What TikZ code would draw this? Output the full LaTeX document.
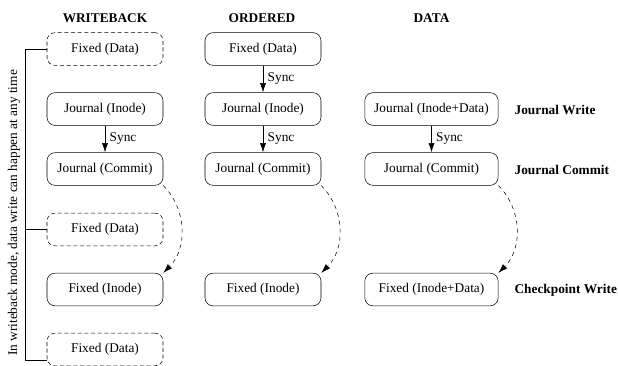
\documentclass[tikz,border=0pt]{standalone}
\usepackage{fontspec}
\setmainfont{Liberation Serif}
\usepackage{tikz}
\usetikzlibrary{arrows.meta}

\tikzset{
  box/.style={draw,rounded corners=6pt,minimum width=87pt,minimum height=24.5pt,inner sep=2pt},
  widebox/.style={box,minimum width=100pt},
  dbox/.style={box,dash pattern=on 3pt off 2pt},
  title/.style={font=\bfseries},
  sync/.style={-{Latex[length=7pt,width=4.5pt]}},
  flush/.style={dashed,-{Latex[length=7pt,width=4.5pt]}}
}

\begin{document}
\begin{tikzpicture}[x=0.75pt,y=-0.75pt]
\useasboundingbox (0,0) rectangle (618,365);

% Titles
\node[title] (twb) at (105,18) {WRITEBACK};
\node[title] (tor) at (262,18) {ORDERED};
\node[title] (tda) at (431.5,18) {DATA};

% Writeback
\node[dbox] (wfd1) at (105,49) {Fixed (Data)};
\node[box] (wji) at (105,109) {Journal (Inode)};
\node[box] (wjc) at (105,169) {Journal (Commit)};
\node[dbox] (wfd2) at (105,229.5) {Fixed (Data)};
\node[box] (wfi) at (105,289.5) {Fixed (Inode)};
\node[dbox] (wfd3) at (105,349.5) {Fixed (Data)};
\draw[sync] (wji) -- (wjc) node[midway,right] {Sync};
\draw[flush] (wjc.south east) to[out=-45,in=45] (wfi.north east);

% Bracket for data writes
\coordinate (btop) at (25,49);
\coordinate (bmid) at (25,229.5);
\coordinate (bbot) at (25,360);
\coordinate (wend) at (wfd3.west |- bbot);
\draw (wfd1.west) -- (btop) -- (bbot) -- (wend);
\draw (bmid) -- (wfd2.west);
\node[rotate=90] (note) at (14,213) {In writeback mode, data write can happen at any time};

% Ordered
\node[box] (ofd) at (263,49) {Fixed (Data)};
\node[box] (oji) at (263,109) {Journal (Inode)};
\node[box] (ojc) at (263,169) {Journal (Commit)};
\node[box] (ofi) at (263,289.5) {Fixed (Inode)};
\draw[sync] (ofd) -- (oji) node[midway,right] {Sync};
\draw[sync] (oji) -- (ojc) node[midway,right] {Sync};
\draw[flush] (ojc.south east) to[out=-45,in=45] (ofi.north east);

% Data
\node[widebox] (dji) at (431.5,109) {Journal (Inode+Data)};
\node[widebox] (djc) at (431.5,169) {Journal (Commit)};
\node[widebox] (dfi) at (431.5,289.5) {Fixed (Inode+Data)};
\draw[sync] (dji) -- (djc) node[midway,right] {Sync};
\draw[flush] (djc.south east) to[out=-45,in=45] (dfi.north east);

% Phases
\node[title,anchor=west,inner sep=1pt] (pjw) at (513,110) {Journal Write};
\node[title,anchor=west,inner sep=1pt] (pjc) at (513,170) {Journal Commit};
\node[title,anchor=west,inner sep=1pt] (pcw) at (513,290.5) {Checkpoint Write};
\end{tikzpicture}
\end{document}
